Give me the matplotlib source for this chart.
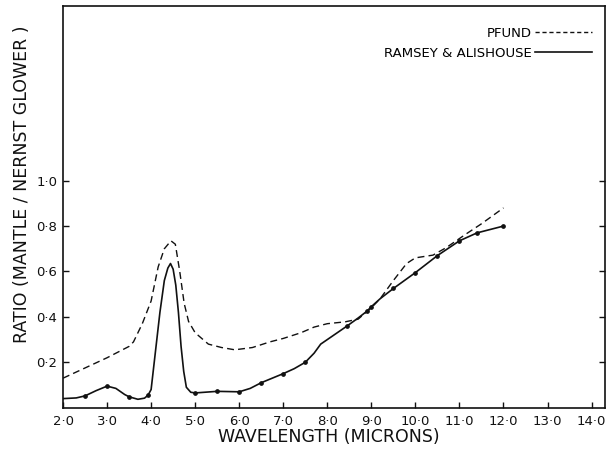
import numpy as np
import matplotlib.pyplot as plt
from matplotlib.lines import Line2D

# Ramsey & Alishouse curve (wavelength in microns, ratio)
ra_wl = [2.0, 2.3, 2.5, 2.75, 3.0, 3.2, 3.4, 3.5, 3.7, 3.85, 3.93, 4.0, 4.1, 4.2,
         4.3, 4.38, 4.44, 4.5, 4.56, 4.62, 4.68, 4.74, 4.8, 4.9, 5.0, 5.5, 6.0,
         6.25, 6.5, 6.75, 7.0, 7.25, 7.5, 7.7, 7.85, 8.0, 8.45, 8.7, 8.9, 9.0,
         9.2, 9.5, 10.0, 10.5, 11.0, 11.4, 11.7, 12.0]
ra_val = [0.04, 0.043, 0.052, 0.075, 0.095, 0.085, 0.058, 0.048, 0.037, 0.042,
          0.055, 0.08, 0.25, 0.42, 0.56, 0.615, 0.635, 0.61, 0.54, 0.42, 0.27,
          0.16, 0.09, 0.068, 0.065, 0.072, 0.07, 0.085, 0.11, 0.13, 0.15, 0.172,
          0.2, 0.24, 0.28, 0.3, 0.36, 0.395, 0.425, 0.445, 0.48, 0.525, 0.595,
          0.67, 0.735, 0.77, 0.785, 0.80]

# measured points (dots) on the Ramsey & Alishouse curve
pt_wl = [2.5, 3.0, 3.5, 3.93, 5.0, 5.5, 6.0, 6.5, 7.0, 7.5, 8.45, 8.9, 9.0,
         9.5, 10.0, 10.5, 11.0, 11.4, 12.0]
pt_val = [0.052, 0.095, 0.048, 0.055, 0.065, 0.072, 0.07, 0.11, 0.15, 0.2,
          0.36, 0.425, 0.445, 0.525, 0.595, 0.67, 0.735, 0.77, 0.80]

# Pfund curve
pf_wl = [2.0, 2.5, 3.0, 3.5, 3.6, 3.8, 4.0, 4.16, 4.3, 4.45, 4.55, 4.65, 4.75,
         4.85, 5.0, 5.3, 5.6, 5.9, 6.3, 6.7, 7.0, 7.4, 7.7, 8.0, 8.4, 8.7, 9.0,
         9.2, 9.5, 9.8, 10.0, 10.4, 10.7, 11.15, 11.5, 12.0]
pf_val = [0.13, 0.175, 0.22, 0.27, 0.29, 0.37, 0.47, 0.62, 0.7, 0.735, 0.72,
          0.6, 0.46, 0.38, 0.33, 0.28, 0.265, 0.255, 0.265, 0.29, 0.305, 0.33,
          0.355, 0.37, 0.378, 0.39, 0.44, 0.48, 0.56, 0.635, 0.66, 0.672, 0.705,
          0.765, 0.81, 0.88]

x_ticks = np.arange(2, 15)
x_labels = ['2·0', '3·0', '4·0', '5·0', '6·0', '7·0', '8·0', '9·0', '10·0',
            '11·0', '12·0', '13·0', '14·0']
y_ticks = [0.2, 0.4, 0.6, 0.8, 1.0]
y_labels = ['0·2', '0·4', '0·6', '0·8', '1·0']

ink = '#111111'
fig = plt.figure(figsize=(6.06, 4.49), dpi=100)
ax = fig.add_axes([0.104, 0.092, 0.894, 0.895])

ax.plot(pf_wl, pf_val, color=ink, lw=1.0, ls=(0, (5, 3)))
ax.plot(ra_wl, ra_val, color=ink, lw=1.2)
ax.plot(pt_wl, pt_val, 'o', color=ink, ms=2.4)

ax.set_xlim(2.0, 14.3)
ax.set_ylim(0, 1.77)
ax.set_xticks(x_ticks)
ax.set_xticklabels(x_labels)
ax.set_yticks(y_ticks)
ax.set_yticklabels(y_labels)
ax.tick_params(direction='in', length=4, width=1, colors=ink, labelsize=9.5,
               right=True)
ax.tick_params(axis='x', pad=5)
ax.tick_params(axis='y', pad=4)
for s in ax.spines.values():
    s.set_linewidth(1.2)
    s.set_color(ink)

ax.set_xlabel('WAVELENGTH (MICRONS)', fontsize=12.5, color=ink)
ax.xaxis.set_label_coords(0.49, -0.073)
ax.xaxis.label.set_va('center')
ax.set_ylabel('RATIO (MANTLE / NERNST GLOWER )', fontsize=12.5, color=ink)
ax.yaxis.set_label_coords(-0.06, 0.555)

handles = [Line2D([], [], color=ink, lw=1.0, ls=(0, (3, 2))),
           Line2D([], [], color=ink, lw=1.2)]
ax.legend(handles, ['PFUND', 'RAMSEY & ALISHOUSE'], loc='upper right',
          bbox_to_anchor=(0.998, 0.977), frameon=False, markerfirst=False,
          fontsize=9.5, handlelength=4.3, handletextpad=0.25, labelspacing=0.5)

fig.savefig('out.png', dpi=100)
